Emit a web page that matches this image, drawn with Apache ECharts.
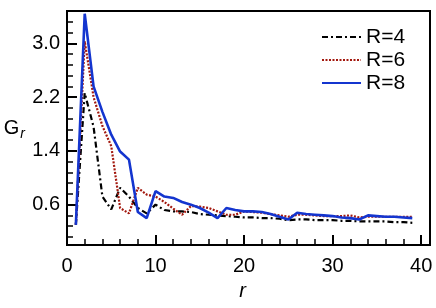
<!DOCTYPE html>
<html><head><meta charset="utf-8">
<script src="https://cdn.jsdelivr.net/npm/echarts@6/dist/echarts.min.js"></script>
<style>html,body{margin:0;padding:0;background:#fff}#c{width:436px;height:308px}</style>
</head><body><div id="c"></div>
<script>
const rValues = [1,2,3,4,5,6,7,8,9,10,11,12,13,14,15,16,17,18,19,20,21,22,23,24,25,26,27,28,29,30,31,32,33,34,35,36,37,38,39];
const gR4 = [0.30,2.26,1.76,0.72,0.53,0.85,0.72,0.55,0.47,0.60,0.52,0.50,0.50,0.49,0.46,0.45,0.44,0.43,0.42,0.41,0.41,0.40,0.40,0.39,0.37,0.38,0.38,0.37,0.37,0.37,0.36,0.36,0.35,0.35,0.35,0.35,0.34,0.34,0.33];
const gR6 = [0.30,3.03,2.20,1.77,1.47,0.55,0.47,0.85,0.75,0.72,0.64,0.54,0.45,0.58,0.57,0.55,0.50,0.45,0.45,0.50,0.49,0.48,0.46,0.44,0.42,0.45,0.45,0.44,0.43,0.43,0.43,0.44,0.41,0.42,0.42,0.42,0.42,0.42,0.42];
const gR8 = [0.30,3.44,2.36,1.98,1.64,1.39,1.27,0.49,0.40,0.80,0.72,0.70,0.64,0.60,0.55,0.48,0.40,0.55,0.52,0.50,0.50,0.49,0.46,0.42,0.38,0.48,0.46,0.45,0.44,0.43,0.41,0.40,0.38,0.44,0.43,0.42,0.42,0.41,0.40];
const seriesNames = ['R=4','R=6','R=8'];
const xMajorTicks = [0,10,20,30,40];
const xMinorTicks = [2,4,6,8,12,14,16,18,22,24,26,28,32,34,36,38];
const yMajorTicks = [0.6,1.4,2.2,3.0];
const yMinorTicks = [0.12,0.28,0.44,0.76,0.92,1.08,1.24,1.56,1.72,1.88,2.04,2.36,2.52,2.68,2.84,3.16,3.32];

const FONT = "'Liberation Sans', Arial, Helvetica, sans-serif";
const X_MIN = 0, X_MAX = 41, Y_MIN = 0, Y_MAX = 3.48;
const gridRect = {left: 67, right: 6, top: 11, bottom: 63};

const chart = echarts.init(document.getElementById('c'), null, {renderer: 'canvas'});
const pair = arr => rValues.map((r, i) => [r, arr[i]]);

chart.setOption({
  animation: false,
  backgroundColor: '#fff',
  grid: [
    Object.assign({show: true, borderColor: '#000', borderWidth: 2, backgroundColor: 'transparent'}, gridRect),
    Object.assign({show: false}, gridRect)
  ],
  legend: {
    orient: 'vertical', left: 316, top: 21, itemWidth: 39, itemHeight: 14, itemGap: 1,
    data: seriesNames,
    itemStyle: {opacity: 0},
    textStyle: {fontFamily: FONT, fontSize: 21, color: '#000', lineHeight: 22}
  },
  xAxis: [
    {
      type: 'value', gridIndex: 0, min: X_MIN, max: X_MAX, position: 'bottom',
      axisLine: {lineStyle: {color: '#000', width: 2}},
      axisTick: {inside: true, length: 10, customValues: xMajorTicks, lineStyle: {color: '#000', width: 2}},
      axisLabel: {customValues: xMajorTicks, margin: 11, color: '#000', fontFamily: FONT, fontSize: 20},
      splitLine: {show: false},
      name: 'r', nameLocation: 'middle', nameGap: 36,
      nameTextStyle: {fontFamily: FONT, fontSize: 20, fontStyle: 'italic', color: '#000', padding: [0, 12, 0, 0]}
    },
    {
      type: 'value', gridIndex: 1, min: X_MIN, max: X_MAX, position: 'bottom',
      axisLine: {show: false},
      axisTick: {inside: true, length: 6, customValues: xMinorTicks, lineStyle: {color: '#000', width: 1.5}},
      axisLabel: {show: false}, splitLine: {show: false}
    }
  ],
  yAxis: [
    {
      type: 'value', gridIndex: 0, min: Y_MIN, max: Y_MAX, position: 'left',
      axisLine: {lineStyle: {color: '#000', width: 2}},
      axisTick: {inside: true, length: 10, customValues: yMajorTicks, lineStyle: {color: '#000', width: 2}},
      axisLabel: {customValues: yMajorTicks, margin: 7, color: '#000', fontFamily: FONT, fontSize: 20,
                  formatter: v => Number(v).toFixed(1)},
      splitLine: {show: false},
      name: '{g|G}{s|r}', nameLocation: 'middle', nameRotate: 0, nameGap: 42,
      nameTextStyle: {
        rich: {
          g: {fontFamily: FONT, fontSize: 20, color: '#000'},
          s: {fontFamily: FONT, fontSize: 14, fontStyle: 'italic', color: '#000', padding: [12, 0, 0, 1]}
        }
      }
    },
    {
      type: 'value', gridIndex: 1, min: Y_MIN, max: Y_MAX, position: 'left',
      axisLine: {show: false},
      axisTick: {inside: true, length: 6, customValues: yMinorTicks, lineStyle: {color: '#000', width: 1.5}},
      axisLabel: {show: false}, splitLine: {show: false}
    }
  ],
  series: [
    {name: seriesNames[0], type: 'line', xAxisIndex: 0, yAxisIndex: 0, data: pair(gR4), symbol: 'none',
     lineStyle: {color: '#000', width: 2.2, type: [6, 3, 2, 3]}, itemStyle: {color: '#000'}, z: 2},
    {name: seriesNames[1], type: 'line', xAxisIndex: 0, yAxisIndex: 0, data: pair(gR6), symbol: 'none',
     lineStyle: {color: '#a3180e', width: 2.2, type: [2, 1.5]}, itemStyle: {color: '#a3180e'}, z: 3},
    {name: seriesNames[2], type: 'line', xAxisIndex: 0, yAxisIndex: 0, data: pair(gR8), symbol: 'none',
     lineStyle: {color: '#1435cf', width: 2.6}, itemStyle: {color: '#1435cf'}, z: 4}
  ]
});
</script></body></html>
